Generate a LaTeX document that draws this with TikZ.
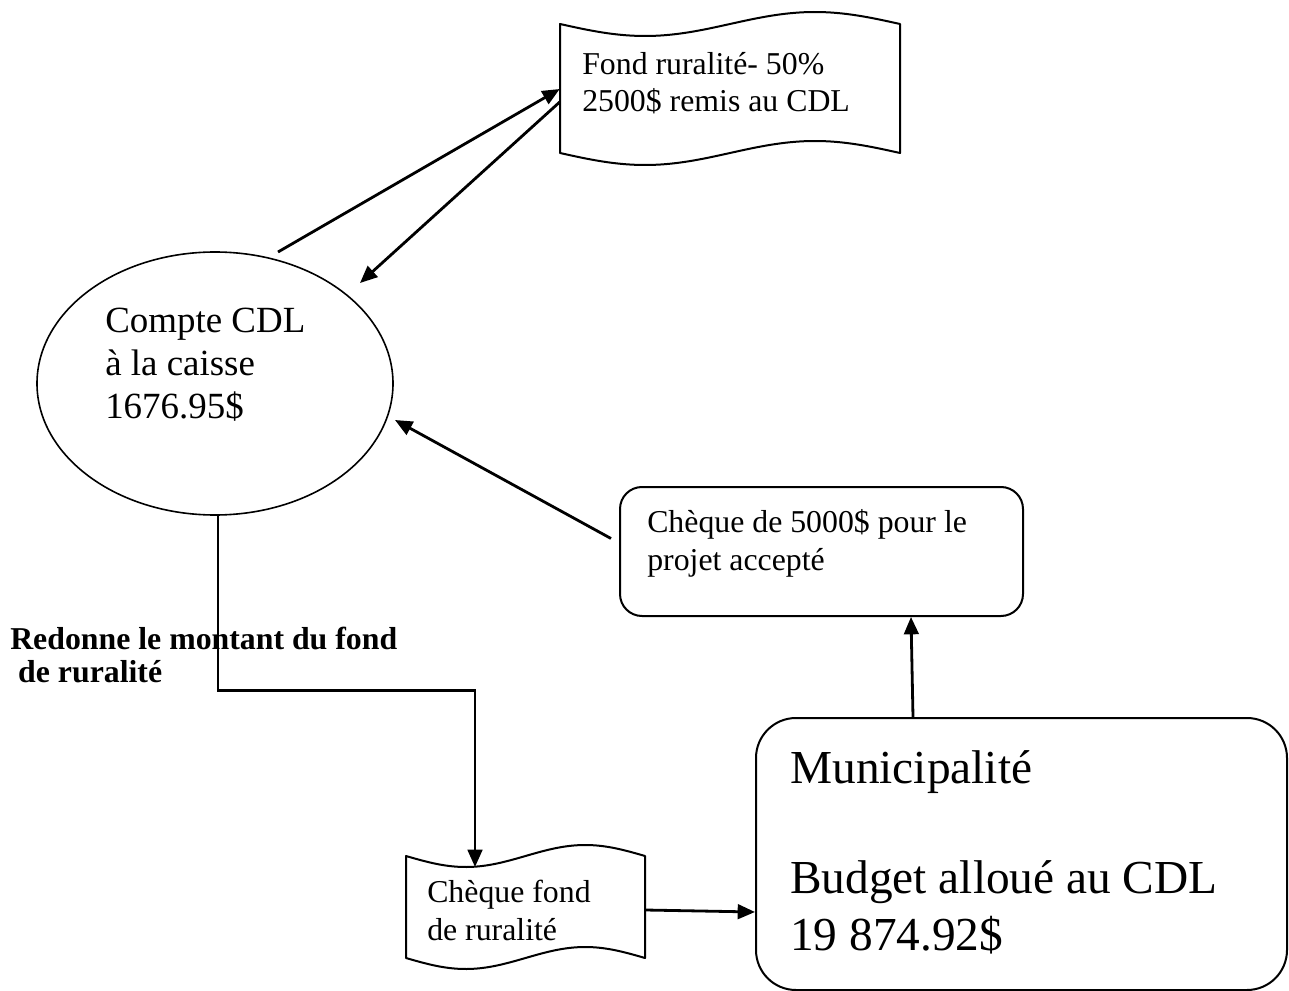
\documentclass[tikz,border=0pt]{standalone}
\usepackage{fontspec}
\setmainfont{Liberation Serif}
\usetikzlibrary{arrows.meta,shapes.geometric,calc}
\begin{document}
\begin{tikzpicture}[x=0.75pt,y=-0.75pt,
  conn/.style={line width=2.1pt,-{Triangle[length=13pt,width=11pt]}},
  outline/.style={draw,line width=1.5pt},
  frame/.style={draw=none,inner sep=0pt},
  txt/.style={anchor=base west,inner sep=0pt,align=left},
  midfont/.style={font=\fontsize{23.85pt}{28pt}\selectfont},
]
\useasboundingbox (0,0) rectangle (1289,991);

% ---- shapes ----
\node[frame,minimum width=255pt,minimum height=96.75pt] (tape1) at (730,89) {};
\draw[outline,line join=round]
  plot[domain=0:360,samples=72] ({560+0.94444*\x},{24+12*sin(\x)})
  -- plot[domain=360:0,samples=72] ({560+0.94444*\x},{153+12*sin(\x)})
  -- cycle;

\node[frame,minimum width=179.25pt,minimum height=76.5pt] (tape2) at (525.5,907) {};
\draw[outline,line join=round]
  plot[domain=0:360,samples=72] ({406+0.66389*\x},{856+11*sin(\x)})
  -- plot[domain=360:0,samples=72] ({406+0.66389*\x},{958+11*sin(\x)})
  -- cycle;

\node[ellipse,draw,line width=1.2pt,inner sep=0pt,
      minimum width=267pt,minimum height=197.25pt] (ell) at (215,383.5) {};

\node[outline,rounded corners=16.5pt,inner sep=0pt,
      minimum width=302.25pt,minimum height=96.75pt] (chq) at (821.5,551.5) {};

\node[outline,rounded corners=30pt,inner sep=0pt,
      minimum width=398.25pt,minimum height=204pt] (mun) at (1021.5,854) {};

% ---- texts (anchored at the baseline of their last line) ----
\node[txt,midfont] (tape1txt) at (582,112) {Fond ruralité- 50\%\\2500\$ remis au CDL};
\node[txt,font=\fontsize{27.7pt}{32.25pt}\selectfont] (elltxt) at (105,418)
  {Compte CDL\\à la caisse\\1676.95\$};
\node[txt,midfont] (chqtxt) at (647,570) {Chèque de 5000\$ pour le\\projet accepté};
\node[txt,midfont] (tape2txt) at (427,940) {Chèque fond\\de ruralité};
\node[txt,font=\bfseries\fontsize{23.85pt}{24.75pt}\selectfont] (lbl) at (10,682)
  {Redonne le montant du fond\\\hspace*{0.25em}de ruralité};
\node[txt,font=\fontsize{35.5pt}{42.75pt}\selectfont] (muntxt) at (790,950)
  {Municipalité\\[39.75pt]Budget alloué au CDL\\19 874.92\$};

% ---- connector end points ----
\coordinate (ellTop) at (278,252);
\coordinate (ellTipA) at (360,283);
\coordinate (ellTipB) at (395,420);
\coordinate (tape2In) at (475,867);

% ---- connectors ----
\draw[conn] (ellTop) -- (tape1.west);
\draw[conn] ($(tape1.west)+(0,13)$) -- (ellTipA);
\draw[conn] ($(chq.west)+(-8,-13)$) -- (ellTipB);
\draw[conn] ($(mun.north)+(-108.5,0)$) -- ($(chq.south)+(89.5,0)$);
\draw[conn] ($(tape2.east)+(0,3)$) -- ($(mun.west)+(0,58)$);
\draw[conn] ($(ell.south)+(3,0)$) -- ++(0,175) -| (tape2In);
\end{tikzpicture}
\end{document}
